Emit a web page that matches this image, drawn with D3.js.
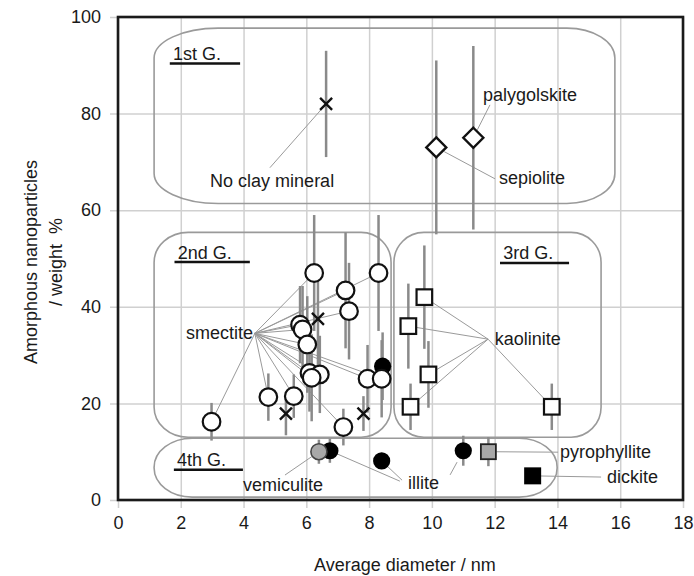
<!DOCTYPE html>
<html><head><meta charset="utf-8">
<script src="https://cdn.jsdelivr.net/npm/d3@7"></script>
<style>body{margin:0;background:#fff} svg{display:block;font-family:"Liberation Sans",Arial,Helvetica,sans-serif}</style>
</head><body><svg id="c" width="694" height="576"></svg>
<script>
// ---------- data ----------
const xTicks = [0, 2, 4, 6, 8, 10, 12, 14, 16, 18];
const yTicks = [0, 20, 40, 60, 80, 100];
const xTitle = "Average diameter / nm";
const yTitle1 = "Amorphous nanoparticles";
const yTitle2 = "/ weight  %";

// No clay mineral (x marks)
const crossX = [6.63, 6.37, 5.35, 7.82];
const crossY = [82, 37.5, 17.9, 17.9];
const crossErr = [11, 10, 4.5, 3.6];
// fibrous clays: sepiolite, palygolskite (diamonds)
const fiberX = [10.14, 11.32];
const fiberY = [73, 75];
const fiberErr = [18, 19];
// smectite (open circles)
const smectiteX = [2.98, 4.79, 5.6, 5.8, 5.88, 6.03, 6.1, 6.43, 6.17, 6.25, 7.25, 7.36, 7.18, 7.95, 8.4, 8.3];
const smectiteY = [16.2, 21.3, 21.5, 36.3, 35.3, 32.2, 26.3, 26.0, 25.3, 47, 43.4, 39.1, 15.1, 25.1, 25.1, 47];
const smectiteErr = [3.9, 4.9, 4.5, 8, 9, 10, 8, 8, 9, 12, 12, 10, 3.8, 7, 8, 12];
// kaolinite (open squares)
const kaoliniteX = [9.76, 9.25, 9.89, 9.32, 13.82];
const kaoliniteY = [42, 36, 26, 19.3, 19.3];
const kaoliniteErr = [10.7, 8.8, 6.9, 4.8, 4.8];
// illite (filled circles)
const illiteX = [8.43, 6.75, 8.4, 11.0];
const illiteY = [27.7, 10.2, 8.1, 10.2];
const illiteErr = [7, 2.5, 0, 3.1];
// vemiculite (grey circle)
const vemX = [6.4], vemY = [10], vemErr = [2.5];
// pyrophyllite (grey square)
const pyroX = [11.8], pyroY = [10], pyroErr = [3];
// dickite (black square)
const dickX = [13.21], dickY = [5], dickErr = [0];

// group regions (data units): name, x0, x1, yTop, yBottom
const groupNames = ["1st G.", "2nd G.", "3rd G.", "4th G."];
const groupX0 = [1.15, 1.15, 8.79, 1.15];
const groupX1 = [15.83, 8.70, 15.39, 13.99];
const groupYTop = [97.7, 55.4, 55.4, 12.8];
const groupYBot = [61.4, 13.0, 13.0, 0.6];
// group title anchor (data units)
const groupLabelX = [1.75, 1.9, 12.27, 1.88];
const groupLabelY = [91.1, 50.0, 49.8, 7.0];
const groupLineX1 = [3.89, 4.2, 14.37, 3.98];

// ---------- scales ----------
const svg = d3.select("#c");
const x = d3.scaleLinear().domain([0, 18]).range([118, 683]);
const y = d3.scaleLinear().domain([0, 100]).range([500, 17]);

const zip = (xs, ys, es) => xs.map((v, i) => ({x: v, y: ys[i], e: es ? es[i] : 0}));
const crosses = zip(crossX, crossY, crossErr);
const fibers = zip(fiberX, fiberY, fiberErr);
const smectite = zip(smectiteX, smectiteY, smectiteErr);
const kaolinite = zip(kaoliniteX, kaoliniteY, kaoliniteErr);
const illite = zip(illiteX, illiteY, illiteErr);
const vem = zip(vemX, vemY, vemErr);
const pyro = zip(pyroX, pyroY, pyroErr);
const dick = zip(dickX, dickY, dickErr);

// ---------- grid / axes ----------
const gridCol = "#d0d0d0";
const gx = svg.append("g").attr("transform", "translate(0,508)")
  .call(d3.axisBottom(x).tickValues(xTicks).tickSize(-(508 - 17)).tickPadding(8).tickFormat(d3.format("d")));
const gy = svg.append("g").attr("transform", "translate(110,0)")
  .call(d3.axisLeft(y).tickValues(yTicks).tickSize(-(683 - 110)).tickPadding(9).tickFormat(d3.format("d")));
[gx, gy].forEach(g => {
  g.select(".domain").remove();
  g.selectAll(".tick line").attr("stroke", gridCol).attr("stroke-width", 1.5);
  g.selectAll(".tick text").attr("font-size", 18).attr("fill", "#1a1a1a")
    .attr("font-family", "'Liberation Sans',Arial,sans-serif");
});

// ---------- group boxes ----------
const boxStyle = {"1st G.": {rl: 64, rr: 48, ry: 30}, "2nd G.": {rl: 34, rr: 30, ry: 30},
                  "3rd G.": {rl: 30, rr: 30, ry: 30}, "4th G.": {rl: 38, rr: 38, ry: 29}};
function roundBox(x0, x1, y0, y1, rl, rr, ry) {
  return `M${x0 + rl},${y0} L${x1 - rr},${y0} A${rr},${ry} 0 0 1 ${x1},${y0 + ry} L${x1},${y1 - ry} A${rr},${ry} 0 0 1 ${x1 - rr},${y1} L${x0 + rl},${y1} A${rl},${ry} 0 0 1 ${x0},${y1 - ry} L${x0},${y0 + ry} A${rl},${ry} 0 0 1 ${x0 + rl},${y0} Z`;
}
svg.append("g").selectAll("path").data(groupNames).join("path")
  .attr("d", (n, i) => { const s = boxStyle[n];
    return roundBox(x(groupX0[i]), x(groupX1[i]), y(groupYTop[i]), y(groupYBot[i]), s.rl, s.rr, s.ry); })
  .attr("fill", "none").attr("stroke", "#9a9a9a").attr("stroke-width", 1.6);

// ---------- leader lines ----------
const leaderCol = "#9a9a9a";
function leader(ax, ay, p, gap) {
  const x1 = x(ax), y1 = y(ay), x2 = x(p.x), y2 = y(p.y);
  const dx = x2 - x1, dy = y2 - y1, L = Math.hypot(dx, dy);
  const g = gap === undefined ? 8 : gap;
  svg.append("line").attr("x1", x1).attr("y1", y1)
    .attr("x2", x2 - dx / L * g).attr("y2", y2 - dy / L * g)
    .attr("stroke", leaderCol).attr("stroke-width", 1);
}
leader(4.84, 68.8, crosses[0], 5);
smectite.forEach(p => leader(4.36, 34.5, p));
kaolinite.forEach(p => leader(11.79, 33.3, p));
leader(12.01, 66.5, fibers[0], 9);
leader(11.85, 81.8, fibers[1], 9);
leader(5.32, 5.17, vem[0]);
leader(8.98, 3.9, illite[1]);
leader(9.05, 4.1, illite[2]);
leader(10.58, 5.2, illite[3], 13);
leader(14.02, 9.9, pyro[0]);
leader(15.39, 4.75, dick[0]);

// ---------- error bars ----------
const allPts = [].concat(crosses, fibers, smectite, kaolinite, illite, vem, pyro, dick);
svg.append("g").selectAll("line").data(allPts.filter(d => d.e > 0)).join("line")
  .attr("x1", d => x(d.x)).attr("x2", d => x(d.x))
  .attr("y1", d => y(d.y + d.e)).attr("y2", d => y(d.y - d.e))
  .attr("stroke", "#8a8a8a").attr("stroke-width", 2.5);

// ---------- markers ----------
const mk = svg.append("g");
// illite filled circles (drawn first: they sit behind neighbours)
mk.selectAll(".il").data(illite).join("circle").attr("class", "il")
  .attr("cx", d => x(d.x)).attr("cy", d => y(d.y)).attr("r", 8.6).attr("fill", "#000");
// vemiculite grey circle
mk.selectAll(".ve").data(vem).join("circle").attr("class", "ve")
  .attr("cx", d => x(d.x)).attr("cy", d => y(d.y)).attr("r", 8)
  .attr("fill", "#a8a8a8").attr("stroke", "#444").attr("stroke-width", 1.6);
// crosses
mk.selectAll(".cr").data(crosses).join("path").attr("class", "cr")
  .attr("d", d => { const cx = x(d.x), cy = y(d.y), s = 6;
    return `M${cx - s},${cy - s}L${cx + s},${cy + s}M${cx - s},${cy + s}L${cx + s},${cy - s}`; })
  .attr("stroke", "#111").attr("stroke-width", 2.4).attr("fill", "none");
// diamonds
mk.selectAll(".dm").data(fibers).join("path").attr("class", "dm")
  .attr("d", d => { const cx = x(d.x), cy = y(d.y), s = 10;
    return `M${cx},${cy - s}L${cx + s},${cy}L${cx},${cy + s}L${cx - s},${cy}Z`; })
  .attr("fill", "#fff").attr("stroke", "#111").attr("stroke-width", 2.4);
// smectite circles
mk.selectAll(".sm").data(smectite).join("circle").attr("class", "sm")
  .attr("cx", d => x(d.x)).attr("cy", d => y(d.y)).attr("r", 8.8)
  .attr("fill", "#fff").attr("stroke", "#111").attr("stroke-width", 2.2);
// kaolinite squares
mk.selectAll(".ka").data(kaolinite).join("rect").attr("class", "ka")
  .attr("x", d => x(d.x) - 7.8).attr("y", d => y(d.y) - 7.8).attr("width", 15.6).attr("height", 15.6)
  .attr("fill", "#fff").attr("stroke", "#111").attr("stroke-width", 2.2);
// pyrophyllite grey square
mk.selectAll(".py").data(pyro).join("rect").attr("class", "py")
  .attr("x", d => x(d.x) - 7.5).attr("y", d => y(d.y) - 7.5).attr("width", 15).attr("height", 15)
  .attr("fill", "#a8a8a8").attr("stroke", "#222").attr("stroke-width", 1.8);
// dickite black square
mk.selectAll(".dk").data(dick).join("rect").attr("class", "dk")
  .attr("x", d => x(d.x) - 8.5).attr("y", d => y(d.y) - 8.5).attr("width", 17).attr("height", 17)
  .attr("fill", "#000");

// ---------- labels ----------
const txt = (s, dx, dy, anchor) => svg.append("text").attr("x", x(dx)).attr("y", y(dy))
  .attr("text-anchor", anchor || "start").attr("font-size", 18).attr("fill", "#1a1a1a").text(s);
txt("No clay mineral", 4.91, 64.7, "middle");
txt("palygolskite", 11.63, 82.6);
txt("sepiolite", 12.14, 65.5);
txt("smectite", 4.3, 33.3, "end");
txt("kaolinite", 12.0, 32.0);
txt("vemiculite", 6.53, 1.86, "end");
txt("illite", 9.24, 2.27);
txt("pyrophyllite", 14.08, 8.7);
txt("dickite", 15.58, 3.5);

groupNames.forEach((n, i) => {
  txt(n, groupLabelX[i], groupLabelY[i]);
  svg.append("line").attr("x1", x(groupLabelX[i] - 0.1)).attr("x2", x(groupLineX1[i]))
    .attr("y1", y(groupLabelY[i]) + 3.5).attr("y2", y(groupLabelY[i]) + 3.5)
    .attr("stroke", "#111").attr("stroke-width", 2.5);
});

// ---------- frame ----------
svg.append("rect").attr("x", x(0)).attr("y", y(100)).attr("width", x(18) - x(0)).attr("height", y(0) - y(100))
  .attr("fill", "none").attr("stroke", "#1a1a1a").attr("stroke-width", 2.6);

// ---------- axis titles ----------
svg.append("text").attr("x", 405).attr("y", 571).attr("text-anchor", "middle")
  .attr("font-size", 18).attr("fill", "#1a1a1a").text(xTitle);
svg.append("text").attr("transform", "translate(37,262) rotate(-90)").attr("text-anchor", "middle")
  .attr("font-size", 18).attr("fill", "#1a1a1a").text(yTitle1);
svg.append("text").attr("transform", "translate(62,262) rotate(-90)").attr("text-anchor", "middle")
  .attr("font-size", 18).attr("fill", "#1a1a1a").style("white-space", "pre").text(yTitle2);
</script></body></html>
